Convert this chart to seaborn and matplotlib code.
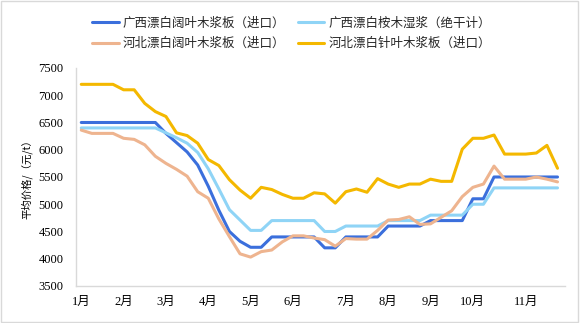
import matplotlib
matplotlib.use("Agg")
import matplotlib.pyplot as plt
from matplotlib.patches import Rectangle
import pandas as pd
import seaborn as sns

# Weekly average prices, yuan per tonne
weeks = list(range(46))

gx_hardwood = [6500, 6500, 6500, 6500, 6500, 6500, 6500, 6500, 6300, 6130,
               5960, 5720, 5330, 4890, 4500, 4320, 4210, 4210, 4400, 4400,
               4400, 4400, 4400, 4200, 4200, 4400, 4400, 4400, 4400, 4600,
               4600, 4600, 4600, 4700, 4700, 4700, 4700, 5100, 5100, 5500,
               5500, 5500, 5500, 5500, 5500, 5500]

gx_eucalyptus = [6400, 6400, 6400, 6400, 6400, 6400, 6400, 6400, 6310, 6220,
                 6120, 5950, 5650, 5280, 4900, 4710, 4520, 4520, 4700, 4700,
                 4700, 4700, 4700, 4500, 4500, 4600, 4600, 4600, 4600, 4700,
                 4700, 4700, 4700, 4800, 4800, 4800, 4800, 5000, 5000, 5300,
                 5300, 5300, 5300, 5300, 5300, 5300]

hb_hardwood = [6360, 6300, 6300, 6300, 6210, 6190, 6090, 5880, 5750, 5640,
               5515, 5230, 5110, 4730, 4405, 4090, 4030, 4130, 4160, 4310,
               4420, 4420, 4380, 4350, 4230, 4370, 4360, 4360, 4520, 4710,
               4720, 4770, 4630, 4640, 4760, 4880, 5140, 5310, 5370, 5700,
               5460, 5460, 5460, 5500, 5460, 5410]

hb_softwood = [7200, 7200, 7200, 7200, 7100, 7100, 6850, 6700, 6610, 6310,
               6260, 6120, 5820, 5710, 5450, 5260, 5110, 5310, 5270, 5180,
               5110, 5110, 5210, 5190, 5020, 5230, 5280, 5220, 5470, 5370,
               5310, 5370, 5370, 5460, 5420, 5420, 6010, 6210, 6210, 6270,
               5920, 5920, 5920, 5940, 6080, 5660]

series_names = ["广西漂白阔叶木浆板（进口）", "广西漂白桉木湿浆（绝干计）",
                "河北漂白阔叶木浆板（进口）", "河北漂白针叶木浆板（进口）"]
series_values = [gx_hardwood, gx_eucalyptus, hb_hardwood, hb_softwood]
series_colors = ["#3b6fdc", "#8fd4f6", "#eeb48f", "#f4b800"]

month_labels = ["1月", "2月", "3月", "4月", "5月", "6月",
                "7月", "8月", "9月", "10月", "11月"]
month_weeks = [0, 4, 8, 12, 16, 20, 25, 29, 33, 37, 42]

y_ticks = [3500, 4000, 4500, 5000, 5500, 6000, 6500, 7000, 7500]

frames = []
for name, vals in zip(series_names, series_values):
    frames.append(pd.DataFrame({"week": weeks, "price": vals, "series": name}))
df = pd.concat(frames, ignore_index=True)

sns.set_theme(style="white")
plt.rcParams["font.family"] = ["Noto Sans CJK SC", "DejaVu Sans"]

fig = plt.figure(figsize=(5.8, 3.23), dpi=100)
ax = fig.add_axes([0.131, 0.1146, 0.843, 0.6749])

sns.lineplot(data=df, x="week", y="price", hue="series",
             hue_order=series_names, palette=series_colors,
             linewidth=2.2, ax=ax, legend=False)

ax.set_xlim(-0.5, 45.7)
ax.set_ylim(3500, 7500)
ax.set_yticks(y_ticks)
ax.set_yticklabels([str(v) for v in y_ticks],
                   fontfamily=["Liberation Serif", "Noto Sans CJK SC"],
                   fontsize=9, color="#000000")
ax.set_xticks(month_weeks)
ax.set_xticklabels(month_labels,
                   fontfamily=["Liberation Serif", "Noto Sans CJK SC"],
                   fontsize=9, color="#000000")
ax.tick_params(axis="both", length=0)
ax.tick_params(axis="y", pad=9)
ax.tick_params(axis="x", pad=7.5)
ax.set_xlabel("")
ax.set_ylabel("平均价格/（元/t）", fontsize=7.5, color="#000000")
ax.yaxis.set_label_coords(-0.088, 0.5)

for side in ["top", "right"]:
    ax.spines[side].set_visible(False)
for side in ["left", "bottom"]:
    ax.spines[side].set_color("#d9d9d9")
    ax.spines[side].set_linewidth(1.0)
ax.grid(False)

lines = ax.get_lines()[:4]
order = [0, 2, 1, 3]
fig.legend([lines[i] for i in order], [series_names[i] for i in order],
           ncol=2, loc="center", bbox_to_anchor=(0.503, 0.897),
           frameon=False, fontsize=9, handlelength=2.1, handletextpad=0.35,
           columnspacing=1.0, labelspacing=0.6, borderpad=0)

fig.patches.append(Rectangle((0.002, 0.003), 0.994, 0.993,
                             transform=fig.transFigure, fill=False,
                             edgecolor="#d9d9d9", linewidth=1.0))

fig.savefig("out.png", dpi=100, facecolor="white")
